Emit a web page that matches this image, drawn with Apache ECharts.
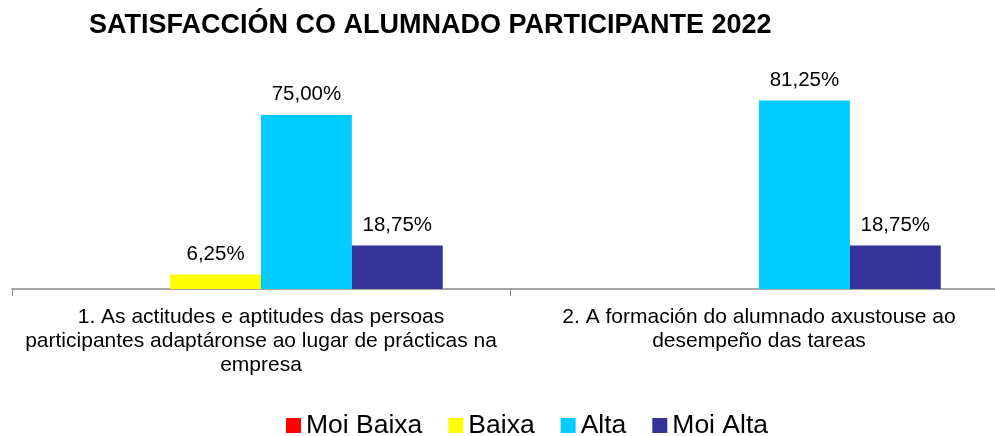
<!DOCTYPE html>
<html>
<head>
<meta charset="utf-8">
<script src="https://cdn.jsdelivr.net/npm/echarts@6/dist/echarts.min.js"></script>
<style>html,body{margin:0;padding:0;background:#fff;overflow:hidden;width:995px;height:436px;}#c{width:1010px;height:436px;}</style>
</head>
<body>
<div id="c"></div>
<script>
const categories = [
  "1. As actitudes e aptitudes das persoas\nparticipantes adaptáronse ao lugar de prácticas na\nempresa",
  "2. A formación do alumnado axustouse ao\ndesempeño das tareas"
];
const seriesNames = ["Moi Baixa", "Baixa", "Alta", "Moi Alta"];
const moiBaixa = [0, 0];
const baixa = [6.25, 0];
const alta = [75.00, 81.25];
const moiAlta = [18.75, 18.75];
const colors = ["#FF0000", "#FFFF00", "#00CCFF", "#333399"];

const dataSets = [moiBaixa, baixa, alta, moiAlta];
const font = "Liberation Sans, Arial, sans-serif";

const chart = echarts.init(document.getElementById('c'), null, {renderer: 'canvas'});
chart.setOption({
  animation: false,
  backgroundColor: '#fff',
  title: {
    text: "SATISFACCIÓN CO ALUMNADO PARTICIPANTE 2022",
    left: 84, top: 7,
    textStyle: {fontFamily: font, fontWeight: 'bold', fontSize: 27, color: '#000'}
  },
  legend: {
    top: 407, left: 281,
    itemWidth: 15, itemHeight: 15, itemGap: 26,
    icon: 'rect',
    textStyle: {fontFamily: font, fontSize: 26.5, color: '#000'},
    data: seriesNames
  },
  grid: {left: 12, top: 57, width: 996, height: 232, containLabel: false},
  xAxis: {
    type: 'category', data: categories,
    axisLine: {lineStyle: {color: '#888', width: 1.5}},
    axisTick: {show: true, length: 7, lineStyle: {color: '#888'}},
    axisLabel: {fontFamily: font, fontSize: 21, color: '#000', lineHeight: 24, margin: 16, interval: 0}
  },
  yAxis: {
    type: 'value', min: 0, max: 100, show: false,
    splitLine: {show: false}
  },
  series: dataSets.map((d, i) => ({
    name: seriesNames[i], type: 'bar', data: d,
    barGap: '0%', barCategoryGap: '27%',
    itemStyle: {color: colors[i]},
    label: {
      show: true, position: 'top', distance: 10,
      fontFamily: font, fontSize: 20.5, color: '#000',
      formatter: p => p.value > 0 ? p.value.toFixed(2).replace('.', ',') + '%' : ''
    }
  }))
});
</script>
</body>
</html>
